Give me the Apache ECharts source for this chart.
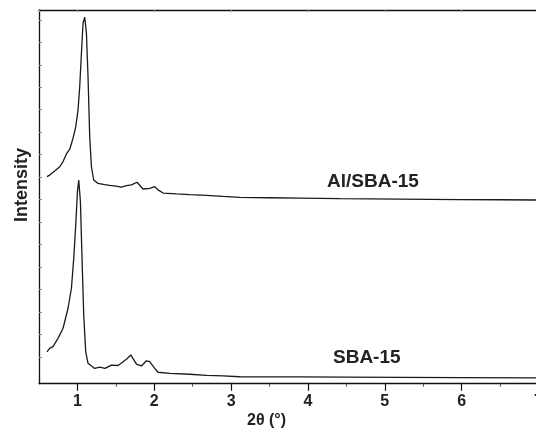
<!DOCTYPE html>
<html>
<head>
<meta charset="utf-8">
<script src="https://cdn.jsdelivr.net/npm/echarts@6/dist/echarts.min.js"></script>
<style>html,body{margin:0;padding:0;background:#fff}#c{width:536px;height:434px}</style>
</head>
<body>
<div id="c"></div>
<script>
// 2θ (degrees) and intensity (arbitrary units) for each sample
const alSbaX = [0.604,0.639,0.704,0.770,0.813,0.857,0.900,0.922,0.943,0.978,1.008,1.030,1.052,1.073,1.095,1.117,1.138,1.160,1.182,1.212,1.225,1.268,1.290,1.355,1.420,1.500,1.573,1.638,1.703,1.776,1.854,1.941,2.007,2.049,2.115,2.289,2.462,2.680,2.896,3.113,3.50,3.89,4.42,5.19,5.97,6.50,7.00];
const alSbaY = [8.02,8.09,8.27,8.46,8.69,9.03,9.24,9.31,9.73,10.24,10.99,12.03,13.51,14.85,15.12,14.41,12.47,9.80,8.46,7.87,7.80,7.72,7.69,7.66,7.63,7.60,7.55,7.62,7.65,7.77,7.47,7.50,7.57,7.43,7.29,7.25,7.22,7.19,7.14,7.10,7.08,7.06,7.04,7.02,7.00,6.99,6.98];
const sbaX = [0.604,0.639,0.682,0.747,0.813,0.878,0.922,0.952,0.978,1.000,1.017,1.039,1.060,1.082,1.108,1.138,1.160,1.225,1.290,1.359,1.443,1.529,1.594,1.642,1.694,1.768,1.833,1.898,1.941,1.993,2.049,2.202,2.462,2.680,2.896,3.113,3.50,3.89,4.50,5.19,6.00,7.00];
const sbaY = [0.22,0.37,0.45,0.82,1.27,2.16,3.05,4.38,5.87,7.35,7.87,6.90,4.38,1.86,0.22,-0.29,-0.34,-0.52,-0.46,-0.52,-0.37,-0.39,-0.22,-0.10,0.08,-0.33,-0.41,-0.18,-0.22,-0.46,-0.69,-0.74,-0.78,-0.83,-0.85,-0.89,-0.90,-0.90,-0.91,-0.92,-0.93,-0.94];
const xTicks = [1,2,3,4,5,6,7];
const yTicks = [0,1,2,3,4,5,6,7,8,9,10,11,12,13,14,15];
const seriesNames = ['Al/SBA-15','SBA-15'];

const zip = (xs, ys) => xs.map((x, i) => [x, ys[i]]);
const chart = echarts.init(document.getElementById('c'));
const font = 'Liberation Sans, Arial, sans-serif';
chart.setOption({
  animation: false,
  grid: {left: 39, right: -2.5, top: 10, bottom: 50.3, outerBoundsMode: 'none', containLabel: false},
  xAxis: [{
    type: 'value', min: 0.5, max: 7,
    position: 'bottom',
    axisLine: {show: true, onZero: false, lineStyle: {color: '#111', width: 1.3}},
    axisTick: {show: true, inside: false, length: 7, lineStyle: {color: '#111', width: 1.2}, customValues: xTicks},
    minorTick: {show: true, splitNumber: 2, length: 3, lineStyle: {color: '#555', width: 1}},
    axisLabel: {show: true, customValues: xTicks, color: '#222', fontFamily: font, fontWeight: 'bold', fontSize: 16, margin: 10, hideOverlap: false},
    splitLine: {show: false}
  }, {
    type: 'value', min: 0.5, max: 7, position: 'top',
    axisLine: {show: true, onZero: false, lineStyle: {color: '#111', width: 1.3}},
    axisTick: {show: true, inside: true, length: 2, lineStyle: {color: '#999', width: 1}},
    axisLabel: {show: false}, splitLine: {show: false}
  }],
  yAxis: {
    type: 'value', min: -1.2, max: 15.44, position: 'left',
    axisLine: {show: true, onZero: false, lineStyle: {color: '#111', width: 1.3}},
    axisTick: {show: true, inside: true, length: 3, customValues: yTicks, lineStyle: {color: '#888', width: 1}},
    axisLabel: {show: false},
    splitLine: {show: false}
  },
  graphic: [
    {type: 'text', left: 327, top: 172, style: {text: seriesNames[0], font: 'bold 19px ' + font, fill: '#222'}},
    {type: 'text', left: 333, top: 348, style: {text: seriesNames[1], font: 'bold 19px ' + font, fill: '#222'}},
    {type: 'text', left: 247, top: 413, style: {text: '2θ (°)', font: 'bold 16px ' + font, fill: '#222'}},
    {type: 'text', x: 22, y: 185, rotation: Math.PI / 2, style: {text: 'Intensity', font: 'bold 18px ' + font, fill: '#222', align: 'center', verticalAlign: 'middle'}}
  ],
  series: [
    {name: seriesNames[0], type: 'line', data: zip(alSbaX, alSbaY), showSymbol: false, lineStyle: {color: '#1a1a1a', width: 1.3}},
    {name: seriesNames[1], type: 'line', data: zip(sbaX, sbaY), showSymbol: false, lineStyle: {color: '#1a1a1a', width: 1.3}}
  ]
});
</script>
</body>
</html>
